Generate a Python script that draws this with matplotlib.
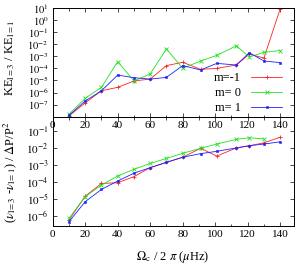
import matplotlib
matplotlib.use("Agg")
import matplotlib.pyplot as plt
from matplotlib.ticker import FixedLocator, MultipleLocator, FixedFormatter

plt.rcParams['font.family'] = ['Liberation Serif', 'DejaVu Serif']
plt.rcParams['mathtext.fontset'] = 'stix'

# ---------------- data ----------------
omega = [10, 20, 30, 40, 50, 60, 70, 80, 91, 101, 113, 121, 130, 140]

ke_m_minus1 = [1.15e-8, 1.4e-7, 1.4e-6, 2.7e-6, 9.1e-6, 1.3e-5, 1.7e-4, 3.2e-4,
               8.3e-5, 1.0e-4, 1.9e-4, 1.5e-3, 7.2e-4, 8.5]
ke_m_0 = [1.6e-8, 3.3e-7, 2.7e-6, 3.6e-4, 9.1e-6, 3.5e-5, 4.1e-3, 1.0e-4,
          4.1e-4, 1.2e-3, 7.4e-3, 8.9e-4, 2.1e-3, 3.0e-3]
ke_m_1 = [1.26e-8, 2.0e-7, 1.4e-6, 2.8e-5, 1.7e-5, 1.3e-5, 1.8e-5, 1.7e-4,
          7.4e-5, 2.6e-4, 1.9e-4, 2.0e-3, 4.1e-4, 3.0e-4]

omega_m0_bottom = [10, 20, 30, 40, 50, 60, 70, 80, 91, 101, 113, 121, 130]
dnu_m_minus1 = [5.4e-7, 1.4e-5, 7.9e-5, 8.7e-5, 2.0e-4, 6.8e-4, 1.4e-3, 2.8e-3,
                9.5e-3, 3.3e-3, 1.0e-2, 1.35e-2, 2.0e-2, 4.3e-2]
dnu_m_0 = [6.8e-7, 1.3e-5, 6.3e-5, 2.2e-4, 5.4e-4, 1.2e-3, 2.4e-3, 4.8e-3,
           9.5e-3, 1.7e-2, 3.2e-2, 4.0e-2, 3.4e-2]
dnu_m_1 = [4.3e-7, 6.6e-6, 3.5e-5, 1.1e-4, 3.2e-4, 6.8e-4, 1.4e-3, 2.8e-3,
           4.6e-3, 6.3e-3, 1.0e-2, 1.35e-2, 1.7e-2, 2.3e-2]

labels = ["m=-1", "m= 0", "m= 1"]
xticks = [0, 20, 40, 60, 80, 100, 120, 140]
top_yticks = [1e-8, 1e-7, 1e-6, 1e-5, 1e-4, 1e-3, 1e-2, 1e-1, 1e0, 1e1]
top_ylabels = ["", r"$10^{-7}$", r"$10^{-6}$", r"$10^{-5}$", r"$10^{-4}$",
               r"$10^{-3}$", r"$10^{-2}$", r"$10^{-1}$", r"$10^{0}$", r"$10^{1}$"]
bot_yticks = [1e-6, 1e-5, 1e-4, 1e-3, 1e-2, 1e-1]
bot_ylabels = [r"$10^{-6}$", r"$10^{-5}$", r"$10^{-4}$", r"$10^{-3}$",
               r"$10^{-2}$", r"$10^{-1}$"]

# ---------------- figure ----------------
W, H = 297, 265
fig = plt.figure(figsize=(W / 100, H / 100), dpi=100)

def frac_axes(x0, x1, ytop, ybot):
    return fig.add_axes([x0 / W, 1 - ybot / H, (x1 - x0) / W, (ybot - ytop) / H])

ax_bot = frac_axes(52.7, 294, 117, 226)
ax_top = frac_axes(52.7, 294, 8, 116.7)

red, green, blue = '#ff2020', '#20e020', '#2020ff'
styles = [dict(color=red, marker='+', ms=3.2, mew=0.6),
          dict(color=green, marker='x', ms=2.6, mew=0.6),
          dict(color=blue, marker='s', ms=1.8, mew=0.4)]
lw = 0.6

for ys, lab, st in zip([ke_m_minus1, ke_m_0, ke_m_1], labels, styles):
    ax_top.plot(omega, ys, lw=lw, label=lab, **st)

ax_bot.plot(omega, dnu_m_minus1, lw=lw, **styles[0])
ax_bot.plot(omega_m0_bottom, dnu_m_0, lw=lw, **styles[1])
ax_bot.plot(omega, dnu_m_1, lw=lw, **styles[2])

fs = 8
for ax in (ax_top, ax_bot):
    ax.set_yscale('log')
    ax.set_xlim(0, 148.5)
    ax.xaxis.set_major_locator(FixedLocator(xticks))
    ax.xaxis.set_minor_locator(MultipleLocator(10))
    ax.tick_params(which='both', direction='in', top=True, right=True,
                   labelsize=fs, width=0.5)
    ax.tick_params(which='major', length=3, pad=3)
    ax.tick_params(which='minor', length=1.8)
    for s in ax.spines.values():
        s.set_linewidth(0.7)

ax_top.set_ylim(1e-8, 1e1)
ax_top.yaxis.set_major_locator(FixedLocator(top_yticks))
ax_top.yaxis.set_major_formatter(FixedFormatter(top_ylabels))
ax_top.yaxis.set_minor_locator(FixedLocator([]))
ax_top.tick_params(axis='y', labelsize=7.5)

ax_bot.set_ylim(10 ** -6.62, 10 ** -0.17)
ax_bot.yaxis.set_major_locator(FixedLocator(bot_yticks))
ax_bot.yaxis.set_major_formatter(FixedFormatter(bot_ylabels))
ax_bot.yaxis.set_minor_locator(FixedLocator([]))

leg = ax_top.legend(loc='lower right', bbox_to_anchor=(0.952, 0.025), frameon=False,
                    markerfirst=False, fontsize=9, handlelength=2.5,
                    handletextpad=0.8, labelspacing=0.22, borderpad=0.0,
                    borderaxespad=0.0)

fig.text(10 / W, 1 - 58 / H, r"KE$_{\mathrm{l=3}}$ / KE$_{\mathrm{l=1}}$",
         rotation=90, ha='center', va='center', fontsize=9)
fig.text(10 / W, 1 - 172 / H,
         r"($\nu_{\mathrm{l=3}}$ -$\nu_{\mathrm{l=1}}$) / $\Delta$P/P$^2$",
         rotation=90, ha='center', va='center', fontsize=9)
fig.text(173 / W, 1 - 257 / H, r"$\Omega_{\mathrm{c}}$ / 2 $\pi$ ($\mu$Hz)",
         ha='center', va='center', fontsize=9)

fig.savefig("out.png", dpi=100)
